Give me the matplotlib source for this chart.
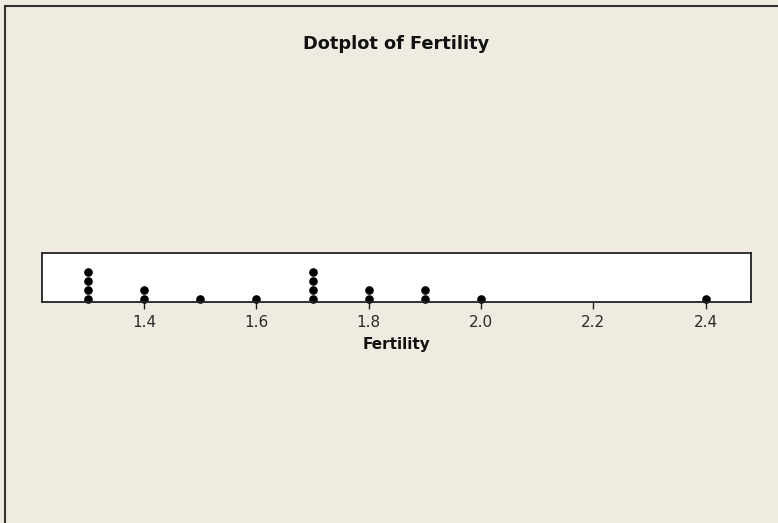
import matplotlib.pyplot as plt
from matplotlib.lines import Line2D
from collections import Counter

# fertility values (one entry per dot)
fertility = [1.3, 1.3, 1.3, 1.3,
             1.4, 1.4,
             1.5,
             1.6,
             1.7, 1.7, 1.7, 1.7,
             1.8, 1.8,
             1.9, 1.9,
             2.0,
             2.4]
tick_values = [1.4, 1.6, 1.8, 2.0, 2.2, 2.4]
tick_labels = ["1.4", "1.6", "1.8", "2.0", "2.2", "2.4"]

W, H = 778, 523
bg = "#EFEBE1"

fig = plt.figure(figsize=(W / 100, H / 100), dpi=100, facecolor=bg)

# axes box in pixel coords
left, right, top, bottom = 41.7, 751.0, 252.5, 302.3
ax = fig.add_axes([left / W, 1 - bottom / H, (right - left) / W, (bottom - top) / H])
ax.set_facecolor("white")

# stack the dots: bottom dot 3.3px above the axis line, 9px apart
box_h = bottom - top
xs, ys = [], []
for val, n in sorted(Counter(fertility).items()):
    for k in range(n):
        xs.append(val)
        ys.append(3.3 + 9.0 * k)
ax.plot(xs, ys, "o", color="black", markersize=6.2, markeredgewidth=0, clip_on=False)

ax.set_xlim(1.2176, 2.481)
ax.set_ylim(0, box_h)
ax.set_yticks([])
ax.set_xticks(tick_values)
ax.set_xticklabels(tick_labels, fontsize=11, color="#2a2a2a")
ax.tick_params(axis="x", direction="out", length=5, width=1.0, color="#222222", pad=4.5)
for s in ax.spines.values():
    s.set_linewidth(1.3)
    s.set_color("#222222")

ax.set_xlabel("Fertility", fontsize=11, fontweight="bold", color="#111111", labelpad=4.5)

fig.text(396 / W, 1 - 44 / H, "Dotplot of Fertility", ha="center", va="center",
         fontsize=12.8, fontweight="bold", color="#111111")

# window frame: only top and left edges visible
fig.add_artist(Line2D([5 / W, 1], [1 - 6 / H, 1 - 6 / H], color="#333333", linewidth=1.5,
                      transform=fig.transFigure))
fig.add_artist(Line2D([5 / W, 5 / W], [0, 1 - 6 / H], color="#333333", linewidth=1.5,
                      transform=fig.transFigure))

fig.savefig("out.png", dpi=100, facecolor=bg)
